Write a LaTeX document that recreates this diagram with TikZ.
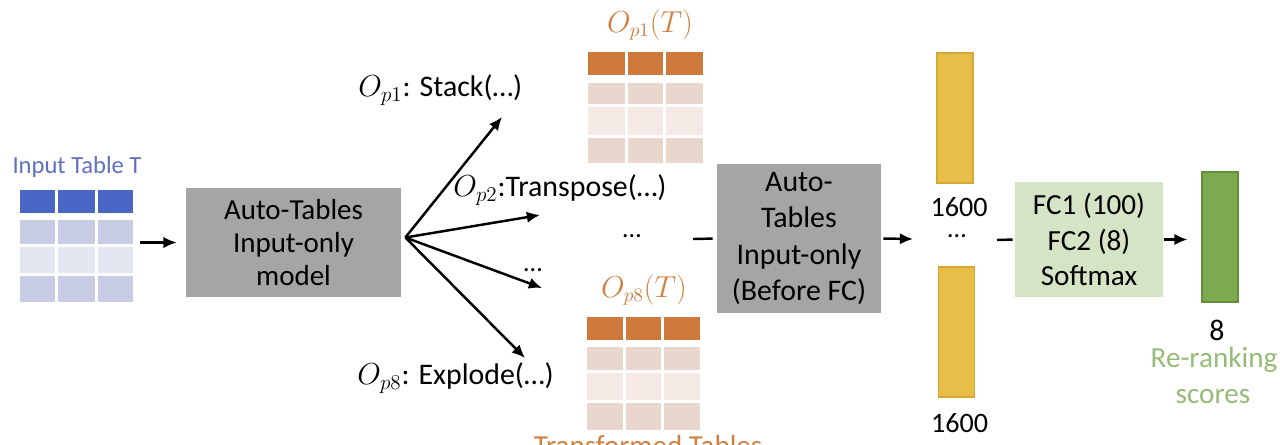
\documentclass[tikz,border=0pt]{standalone}
\usepackage{fontspec}
\setmainfont{Carlito}
\usetikzlibrary{arrows.meta}
\definecolor{tblue}{RGB}{96,112,190}
\definecolor{bhead}{RGB}{74,102,196}
\definecolor{brow}{RGB}{200,204,229}
\definecolor{browl}{RGB}{228,230,242}
\definecolor{torange}{RGB}{208,128,64}
\definecolor{ohead}{RGB}{207,122,60}
\definecolor{orow}{RGB}{233,214,204}
\definecolor{orowl}{RGB}{244,233,228}
\definecolor{boxgray}{RGB}{165,165,165}
\definecolor{yfill}{RGB}{232,190,72}
\definecolor{ydraw}{RGB}{212,168,52}
\definecolor{fcfill}{RGB}{214,228,198}
\definecolor{gfill}{RGB}{125,170,79}
\definecolor{gdraw}{RGB}{100,142,60}
\definecolor{tgreen}{RGB}{150,186,120}
\begin{document}
\begin{tikzpicture}[x=0.02cm,y=-0.02cm,
  arr/.style={line width=1.4pt,-{Latex[length=7.5pt,width=6.5pt]}},
  plain/.style={line width=1.4pt},
  graybox/.style={fill=boxgray,inner sep=0,align=center},
  lbl/.style={inner sep=0,font=\fontsize{17}{20}\selectfont},
  bar/.style={inner sep=0,minimum width=0.72cm,minimum height=2.6cm,line width=0.6pt}]
\useasboundingbox (0,0) rectangle (1280,444);
% input table
\node[lbl,text=tblue,font=\fontsize{14}{16}\selectfont] (inlbl) at (77,167) {Input Table T};
\foreach \a/\b in {20/55,58/95,98/133}{
  \fill[bhead] (\a,190) rectangle (\b,213);
  \fill[brow] (\a,220) rectangle (\b,244);
  \fill[browl] (\a,247) rectangle (\b,273);
  \fill[brow] (\a,276) rectangle (\b,302);}
\node[inner sep=0,minimum width=2.26cm,minimum height=2.24cm] (intable) at (76.5,246) {};
% box 1
\node[graybox,minimum width=4.3cm,minimum height=2.18cm,font=\fontsize{16.5}{19}\selectfont] (box1) at (293.5,242.5) {Auto-Tables\\Input-only\\model};
\draw[arr,shorten <=0.14cm,shorten >=0.18cm] (intable.east |- box1.west) -- (box1.west);
% fan
\coordinate (t1) at (502,117);
\coordinate (t2) at (540,215);
\coordinate (t3) at (542,288);
\coordinate (t4) at (525,358);
\foreach \t in {t1,t2,t3,t4}{\draw[arr] ([shift={(4,-5)}]box1.east) -- (\t);}
\node[lbl,anchor=west] (l1) at (358,90) {$O_{p1}$: Stack(…)};
\node[lbl,anchor=west] (l2) at (453,190) {$O_{p2}$:Transpose(…)};
\node[lbl,anchor=west] (l8) at (357,378) {$O_{p8}$: Explode(…)};
\node[lbl,font=\fontsize{15}{18}\selectfont] (e1) at (533,270) {…};
\node[lbl,font=\fontsize{15}{18}\selectfont] (e2) at (632,236) {…};
% transformed tables
\node[lbl,text=torange,font=\fontsize{16}{18}\selectfont] (o1) at (650,25) {$O_{p1}(T)$};
\foreach \a/\b in {588/625,628/663,666/703}{
  \fill[ohead] (\a,52) rectangle (\b,75);
  \fill[orow] (\a,83) rectangle (\b,104);
  \fill[orowl] (\a,107) rectangle (\b,135);
  \fill[orow] (\a,138) rectangle (\b,163);}
\node[lbl,text=torange,font=\fontsize{16}{18}\selectfont] (o8) at (644,290) {$O_{p8}(T)$};
\foreach \a/\b in {587/623,626/661,664/700}{
  \fill[ohead] (\a,317) rectangle (\b,340);
  \fill[orow] (\a,347) rectangle (\b,370);
  \fill[orowl] (\a,373) rectangle (\b,400);
  \fill[orow] (\a,403) rectangle (\b,430);}
\node[lbl,text=torange,font=\fontsize{16.5}{18}\selectfont,anchor=base] (tt) at (648,455) {Transformed Tables};
% box 2
\node[graybox,minimum width=3.28cm,minimum height=2.98cm,font=\fontsize{17}{20.8}\selectfont] (box2) at (799,238.5) {Auto-\\Tables\\Input-only\\(Before FC)};
\coordinate (d1) at (693,239);
\draw[plain,shorten >=0.08cm] (d1) -- (box2.west);
\coordinate (dt) at (913,239);
\draw[arr,shorten <=0.04cm] (box2.east) -- (dt);
% vectors
\node[bar,fill=yfill,draw=ydraw] (y1) at (955,118) {};
\node[bar,fill=yfill,draw=ydraw] (y2) at (956.5,332) {};
\node[lbl,font=\fontsize{16}{18}\selectfont] (n1) at (959,207) {1600};
\node[lbl,font=\fontsize{15}{18}\selectfont] (e3) at (957,236) {…};
\node[lbl,font=\fontsize{16}{18}\selectfont] (n2) at (959.5,423) {1600};
% FC
\node[fill=fcfill,inner sep=0,align=center,minimum width=2.96cm,minimum height=2.3cm,font=\fontsize{16.6}{20.4}\selectfont] (fc) at (1089,239.5) {FC1 (100)\\FC2 (8)\\Softmax};
\coordinate (d2) at (997,240);
\draw[plain,shorten >=0.04cm] (d2) -- (fc.west);
\node[bar,fill=gfill,draw=gdraw] (gb) at (1220,237) {};
\draw[arr,shorten >=0.28cm,shorten <=0.02cm] (fc.east) -- (gb.west |- fc.east);
\node[lbl,font=\fontsize{17}{18}\selectfont] (n8) at (1217,330) {8};
\node[lbl,text=tgreen,font=\fontsize{16.6}{18}\selectfont] (rr) at (1214,360) {Re-ranking};
\node[lbl,text=tgreen,font=\fontsize{16.6}{18}\selectfont] (sc) at (1213,397) {scores};
\end{tikzpicture}
\end{document}
